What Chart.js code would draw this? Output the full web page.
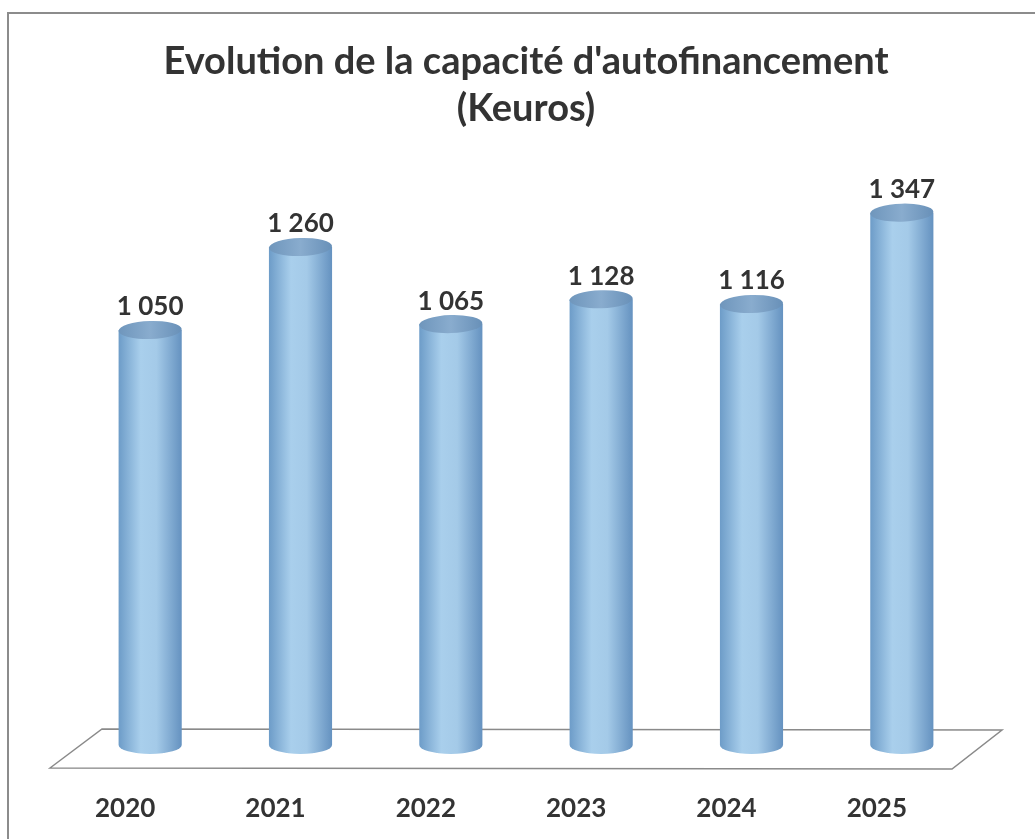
<!DOCTYPE html>
<html>
<head>
<meta charset="utf-8">
<script src="https://cdn.jsdelivr.net/npm/chart.js@4.4.0/dist/chart.umd.min.js"></script>
<style>
  html, body { margin: 0; padding: 0; background: #fff; }
  #wrap { width: 1035px; height: 839px; }
</style>
</head>
<body>
<div id="wrap"><canvas id="graphCaf" width="1035" height="839"></canvas></div>
<script>
// Données
const annees = ['2020', '2021', '2022', '2023', '2024', '2025'];
const caf = [1050, 1260, 1065, 1128, 1116, 1347];
const titre = ["Evolution de la capacité d'autofinancement", '(Keuros)'];

const police = "'Lato', 'Open Sans', sans-serif";
const texteCouleur = '#333333';

// format "1 050"
function formatKeuros(v) {
  return String(v).replace(/\B(?=(\d{3})+(?!\d))/g, ' ');
}

// dégradé horizontal d'un cylindre
function degradeCylindre(ctx, x0, x1, sombre) {
  const g = ctx.createLinearGradient(x0, 0, x1, 0);
  if (sombre) {
    g.addColorStop(0, '#6f96bc');
    g.addColorStop(0.5, '#89acce');
    g.addColorStop(1, '#6890b8');
  } else {
    g.addColorStop(0, '#6d9cc8');
    g.addColorStop(0.35, '#a9cfec');
    g.addColorStop(0.6, '#a4cae8');
    g.addColorStop(1, '#6592c0');
  }
  return g;
}

// cadre + sol en perspective
const fondPlugin = {
  id: 'fond',
  beforeDraw(chart) {
    const ctx = chart.ctx;
    ctx.save();
    ctx.fillStyle = '#ffffff';
    ctx.fillRect(0, 0, chart.width, chart.height);
    ctx.strokeStyle = '#8c8c8c';
    ctx.lineWidth = 2;
    ctx.strokeRect(8, 13, chart.width + 20, chart.height + 20);
    ctx.restore();
  },
  beforeDatasetsDraw(chart) {
    const ctx = chart.ctx;
    const a = chart.chartArea;
    ctx.save();
    ctx.strokeStyle = '#8a8a8a';
    ctx.lineWidth = 1.5;
    ctx.beginPath();
    ctx.moveTo(a.left - 25, a.bottom + 23);
    ctx.lineTo(a.left + 27, a.bottom - 16);
    ctx.lineTo(a.right + 25, a.bottom - 15);
    ctx.lineTo(a.right - 25, a.bottom + 24);
    ctx.closePath();
    ctx.stroke();
    ctx.restore();
  }
};

// ellipses des cylindres + étiquettes de valeur
const cylindrePlugin = {
  id: 'cylindre',
  afterDatasetsDraw(chart) {
    const ctx = chart.ctx;
    const meta = chart.getDatasetMeta(0);
    const ry = 9;
    ctx.save();
    meta.data.forEach((bar, i) => {
      const rx = bar.width / 2;
      const x0 = bar.x - rx, x1 = bar.x + rx;
      // base
      ctx.beginPath();
      ctx.ellipse(bar.x, bar.base, rx, ry, 0, 0, Math.PI);
      ctx.fillStyle = degradeCylindre(ctx, x0, x1, false);
      ctx.fill();
      // dessus
      ctx.beginPath();
      ctx.ellipse(bar.x, bar.y, rx, ry, -0.03, 0, Math.PI * 2);
      ctx.fillStyle = degradeCylindre(ctx, x0, x1, true);
      ctx.fill();
      // valeur
      ctx.fillStyle = texteCouleur;
      ctx.font = 'bold 26px ' + police;
      ctx.textAlign = 'center';
      ctx.textBaseline = 'middle';
      ctx.fillText(formatKeuros(caf[i]), bar.x, bar.y - 23);
    });
    ctx.restore();
  }
};

const chartCaf = new Chart(document.getElementById('graphCaf').getContext('2d'), {
  type: 'bar',
  data: {
    labels: annees,
    datasets: [{
      label: 'CAF (Keuros)',
      data: caf,
      backgroundColor: (c) => {
        const chart = c.chart;
        if (!chart.chartArea) return '#8fbde6';
        const xs = chart.scales.x;
        const w = (xs.width / annees.length) * 0.42;
        const cx = xs.getPixelForValue(c.dataIndex);
        return degradeCylindre(chart.ctx, cx - w / 2, cx + w / 2, false);
      },
      borderWidth: 0,
      barPercentage: 0.42,
      categoryPercentage: 1
    }]
  },
  options: {
    responsive: false,
    animation: false,
    layout: { padding: { left: 75, right: 58, top: 0, bottom: 0 } },
    scales: {
      y: { display: false, min: 0, max: 1400 },
      x: {
        grid: { display: false },
        border: { display: false },
        afterFit: (s) => { s.height = 94; },
        ticks: {
          color: texteCouleur,
          padding: 40,
          labelOffset: -25,
          font: { family: police, size: 26, weight: 'bold' }
        }
      }
    },
    plugins: {
      legend: { display: false },
      tooltip: { enabled: false },
      title: {
        display: true,
        text: titre,
        color: texteCouleur,
        font: { family: police, size: 38, weight: 'bold', lineHeight: 1.22 },
        padding: { top: 39, bottom: 60 }
      }
    }
  },
  plugins: [fondPlugin, cylindrePlugin]
});
</script>
</body>
</html>
